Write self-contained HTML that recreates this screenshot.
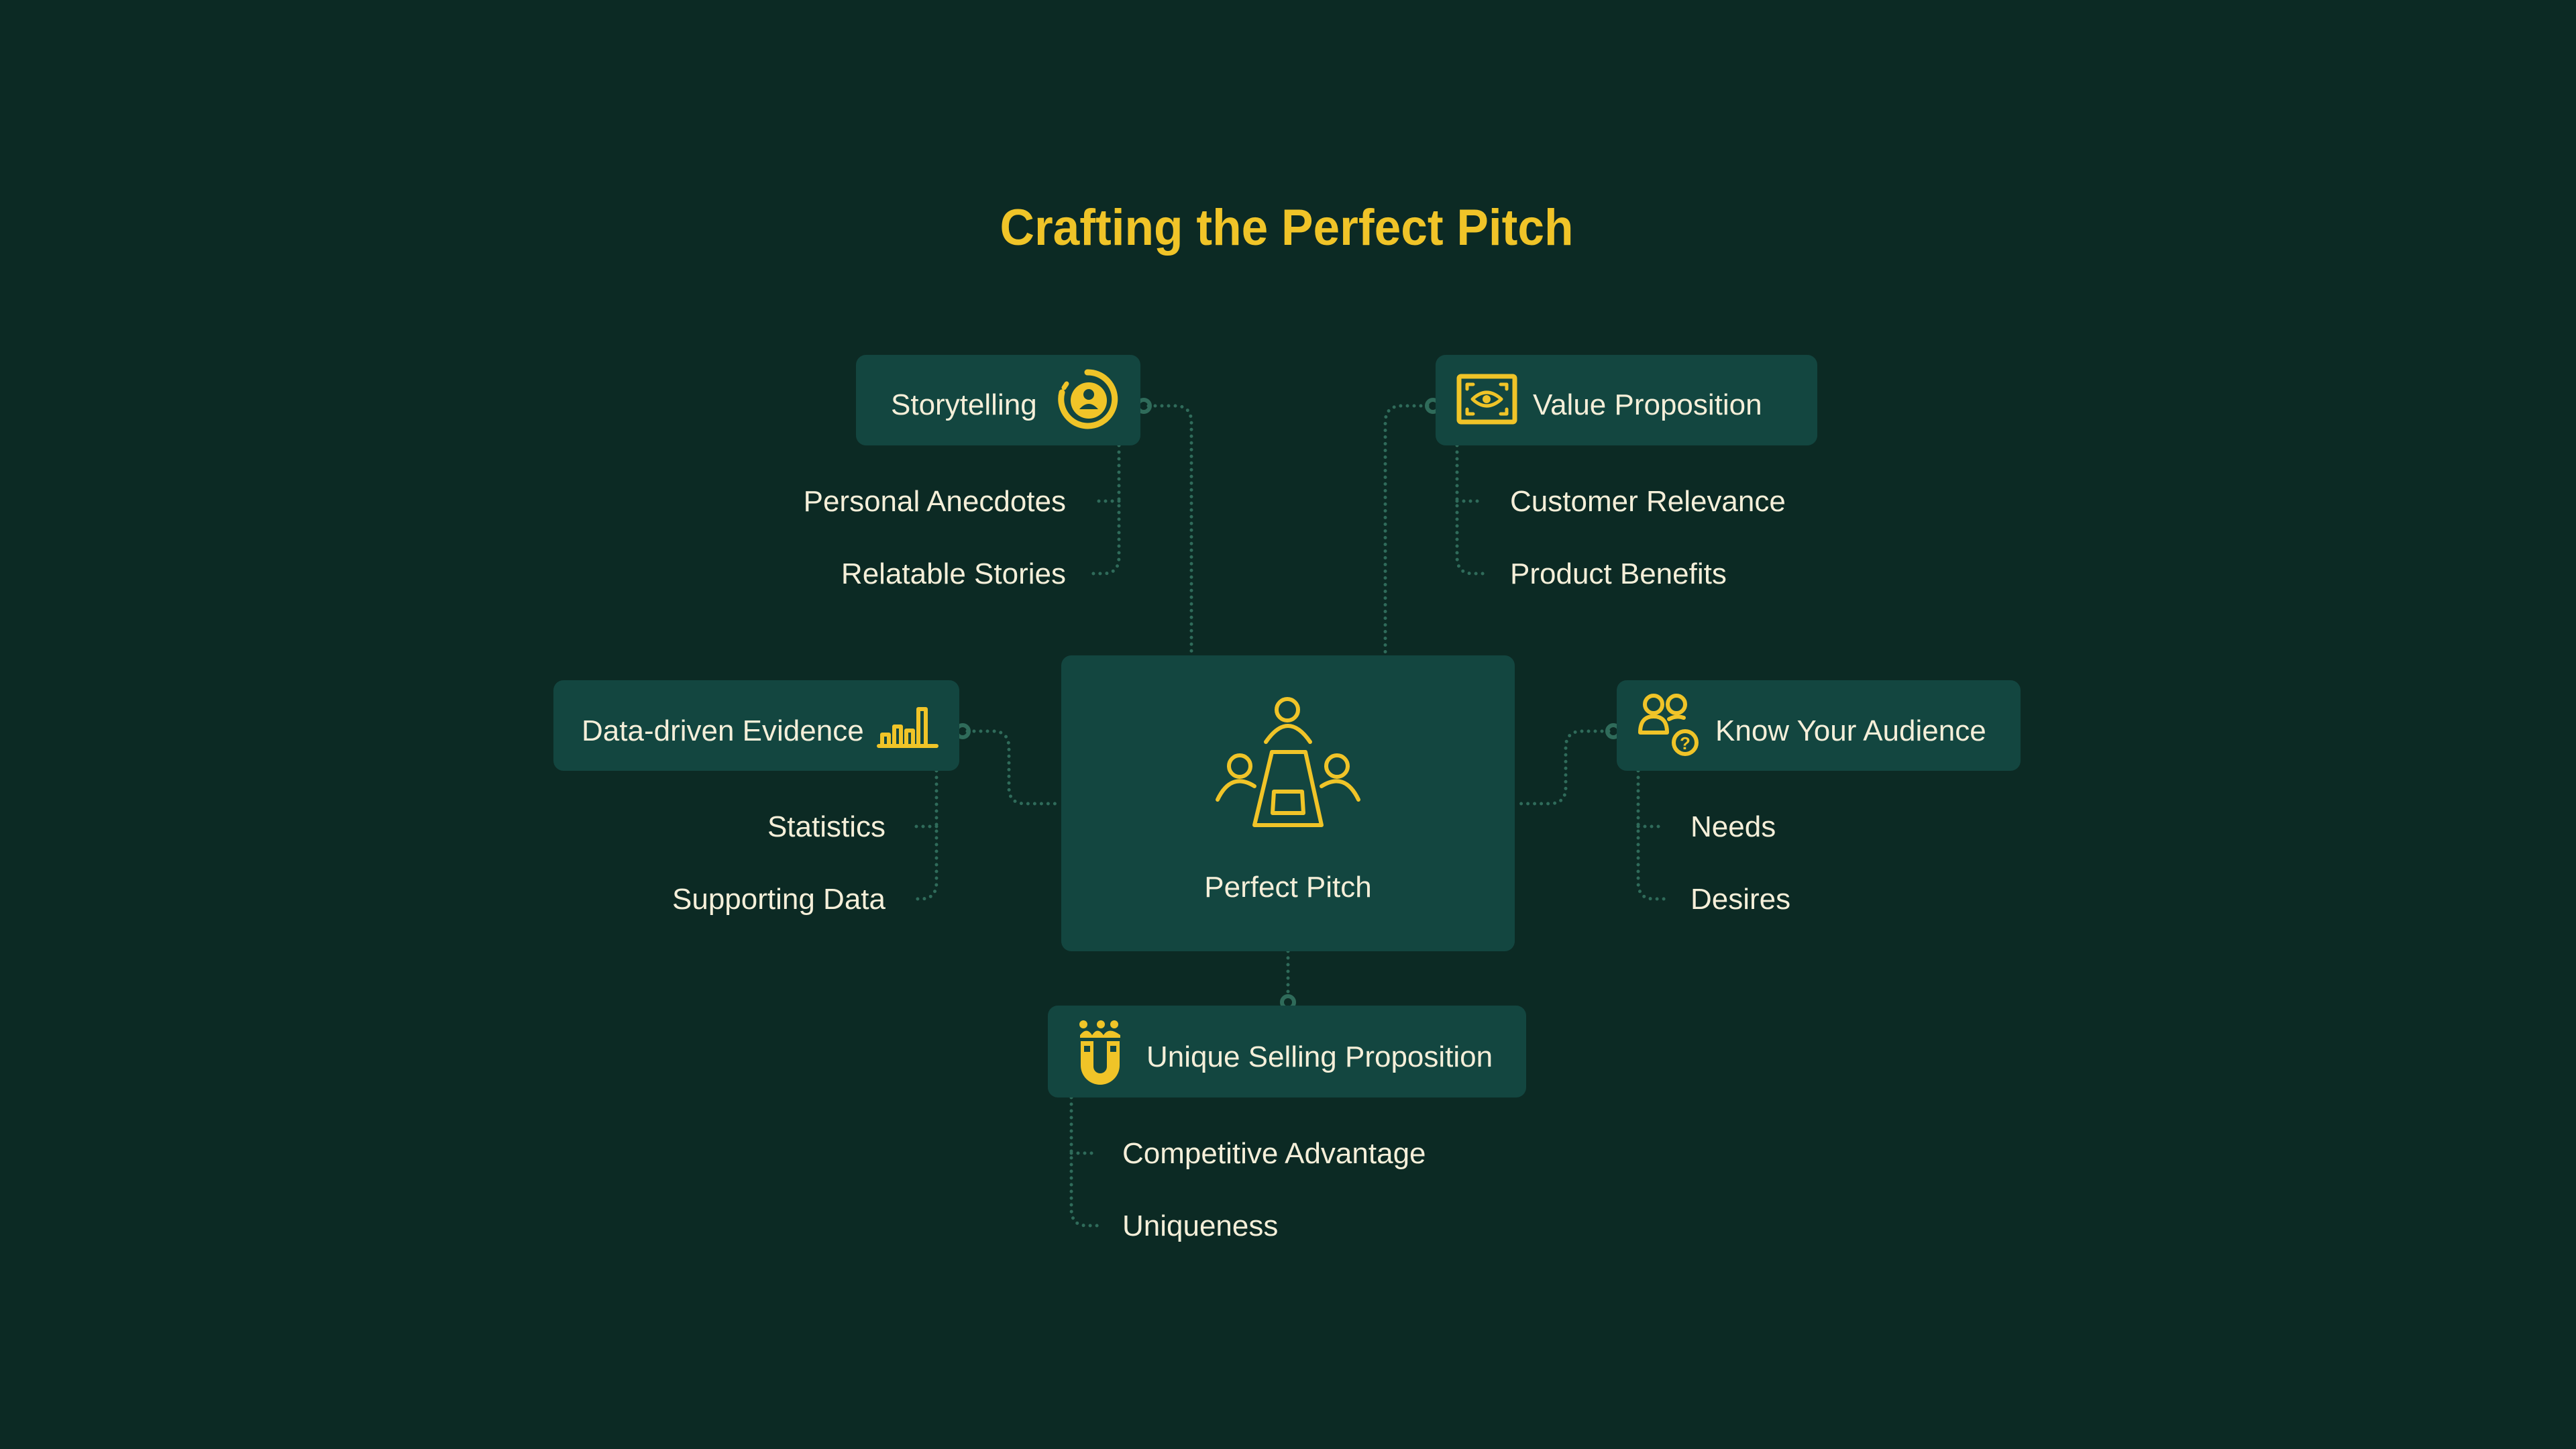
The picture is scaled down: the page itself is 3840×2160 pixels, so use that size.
<!DOCTYPE html>
<html><head><meta charset="utf-8"><style>
html,body{margin:0;padding:0;background:#0c2a24;}
svg{display:block}
text{font-family:"Liberation Sans",sans-serif;}
</style></head><body>
<svg width="3840" height="2160" viewBox="0 0 3840 2160" xmlns="http://www.w3.org/2000/svg">
<rect width="3840" height="2160" fill="#0c2a24"/>
<text x="1918" y="365" text-anchor="middle" font-size="76" font-weight="bold" fill="#f0c428" textLength="855" lengthAdjust="spacingAndGlyphs">Crafting the Perfect Pitch</text>

<g fill="none" stroke="#2f6b5a" stroke-width="5" stroke-linecap="round" stroke-dasharray="0 10">
<path d="M1712 605 H1752 Q1776 605 1776 630 V977"/>
<path d="M2128 605 H2090 Q2065 605 2065 630 V977"/>
<path d="M1442 1090 H1480 Q1504 1090 1504 1115 V1174 Q1504 1198 1528 1198 H1582"/>
<path d="M2398 1090 H2358 Q2334 1090 2334 1115 V1174 Q2334 1198 2310 1198 H2258"/>
<path d="M1920 1418 V1484"/>
<path d="M1668 664 V830 Q1668 855 1645 855 H1629"/>
<path d="M1668 747 H1629"/>
<path d="M2172 664 V830 Q2172 855 2195 855 H2211"/>
<path d="M2172 747 H2211"/>
<path d="M1396 1149 V1315 Q1396 1340 1373 1340 H1359"/>
<path d="M1396 1232 H1359"/>
<path d="M2442 1149 V1315 Q2442 1340 2465 1340 H2481"/>
<path d="M2442 1232 H2481"/>
<path d="M1597 1636 V1802 Q1597 1827 1620 1827 H1636"/>
<path d="M1597 1719 H1636"/>
</g>
<g fill="none" stroke="#2f6b5a" stroke-width="6">
<circle cx="1705" cy="605" r="9"/>
<circle cx="2136" cy="605" r="9"/>
<circle cx="1435" cy="1090" r="9"/>
<circle cx="2405" cy="1090" r="9"/>
<circle cx="1920" cy="1494" r="9"/>
</g>

<g fill="#134640">
<rect x="1276" y="529" width="424" height="135" rx="15"/>
<rect x="2140" y="529" width="569" height="135" rx="15"/>
<rect x="825" y="1014" width="605" height="135" rx="15"/>
<rect x="2410" y="1014" width="602" height="135" rx="15"/>
<rect x="1582" y="977" width="676" height="441" rx="15"/>
<rect x="1562" y="1499" width="713" height="137" rx="15"/>
</g>

<g font-size="44" fill="#f5efd9">
<text x="1328" y="618">Storytelling</text>
<text x="2285" y="618">Value Proposition</text>
<text x="867" y="1104">Data-driven Evidence</text>
<text x="2557" y="1104">Know Your Audience</text>
<text x="1920" y="1337" text-anchor="middle">Perfect Pitch</text>
<text x="1709" y="1590">Unique Selling Proposition</text>
<text x="1589" y="762" text-anchor="end">Personal Anecdotes</text>
<text x="1589" y="870" text-anchor="end">Relatable Stories</text>
<text x="2251" y="762">Customer Relevance</text>
<text x="2251" y="870">Product Benefits</text>
<text x="1320" y="1247" text-anchor="end">Statistics</text>
<text x="1320" y="1355" text-anchor="end">Supporting Data</text>
<text x="2520" y="1247">Needs</text>
<text x="2520" y="1355">Desires</text>
<text x="1673" y="1734">Competitive Advantage</text>
<text x="1673" y="1842">Uniqueness</text>
</g>

<g fill="none" stroke="#f0c428" stroke-width="7" stroke-linecap="round" stroke-linejoin="round">
<path d="M1621 555 A40 40 0 1 1 1583 585" stroke-width="9"/>
<path d="M1590 572 L1586 578" stroke-width="7"/>
<circle cx="1623" cy="597" r="27" fill="#f0c428" stroke="none"/>
<circle cx="1623" cy="588" r="8" fill="#134640" stroke="none"/>
<path d="M1609 610 Q1623 594 1637 610 Z" fill="#134640" stroke="none"/>
<rect x="2175" y="561" width="83" height="68" rx="3"/>
<path d="M2187 580 V573 H2196 M2246 580 V573 H2237 M2187 610 V617 H2196 M2246 610 V617 H2237" stroke-width="5"/>
<path d="M2195 595 Q2216 575 2238 595 Q2216 615 2195 595 Z" stroke-width="5"/>
<circle cx="2216" cy="595" r="6" fill="#f0c428" stroke="none"/>
<path d="M1310 1112 H1396 M1315 1112 V1095 H1325 V1112 M1333 1112 V1083 H1343 V1112 M1351 1112 V1089 H1361 V1112 M1369 1112 V1057 H1380 V1112" stroke-width="6"/>
<circle cx="2465" cy="1050" r="13" stroke-width="6"/>
<circle cx="2499" cy="1050" r="13" stroke-width="6"/>
<path d="M2445 1092 Q2445 1068 2465 1068 Q2485 1068 2485 1092 Z" stroke-width="6"/>
<path d="M2488 1072 Q2499 1066 2510 1070" stroke-width="6"/>
<circle cx="2512" cy="1107" r="17" stroke-width="6"/>
<text x="2512" y="1117" text-anchor="middle" font-size="26" font-weight="bold" fill="#f0c428" stroke="none">?</text>
<circle cx="1919" cy="1058" r="16" stroke-width="6"/>
<path d="M1887 1106 Q1920 1058 1953 1106" stroke-width="6"/>
<circle cx="1848" cy="1142" r="16" stroke-width="6"/>
<path d="M1815 1192 Q1835 1150 1870 1172" stroke-width="6"/>
<circle cx="1993" cy="1142" r="16" stroke-width="6"/>
<path d="M1970 1172 Q2005 1150 2025 1192" stroke-width="6"/>
<path d="M1896 1121 H1946 L1970 1230 H1870 Z" stroke-width="6"/>
<path d="M1899 1180 H1941 L1943 1212 H1897 Z" stroke-width="6"/>
</g>
<g fill="#f0c428">
<circle cx="1615" cy="1527" r="6"/><circle cx="1641" cy="1527" r="6"/><circle cx="1661" cy="1527" r="6"/>
<path d="M1610 1543 Q1620 1530 1628 1543 Q1636 1530 1645 1543 Q1653 1530 1670 1543 V1547 H1610 Z"/>
<path d="M1611 1552 H1630 V1590 A10 10 0 0 0 1650 1590 V1552 H1669 V1588 A29 29 0 0 1 1611 1588 Z"/>
</g>
<rect x="1616" y="1559" width="9" height="9" fill="#134640"/>
<rect x="1655" y="1559" width="9" height="9" fill="#134640"/>
</svg>
</body></html>
